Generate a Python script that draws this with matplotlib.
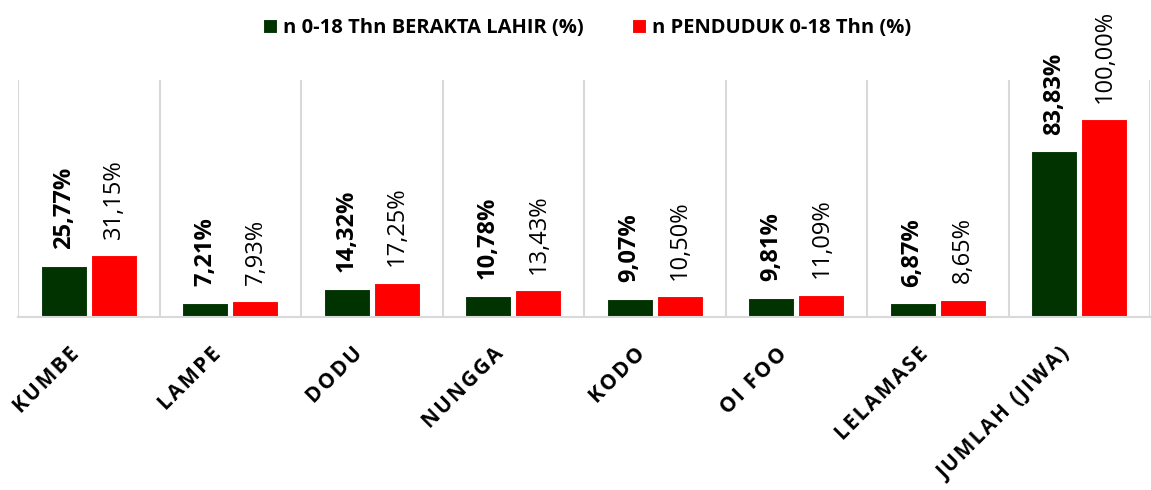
import numpy as np
import matplotlib
matplotlib.use("Agg")
import matplotlib.pyplot as plt
import matplotlib.transforms as mtransforms

categories = ['KUMBE', 'LAMPE', 'DODU', 'NUNGGA', 'KODO', 'OI FOO', 'LELAMASE', 'JUMLAH (JIWA)']
berakta_lahir = [25.77, 7.21, 14.32, 10.78, 9.07, 9.81, 6.87, 83.83]
penduduk = [31.15, 7.93, 17.25, 13.43, 10.50, 11.09, 8.65, 100.00]
series_names = ['n 0-18 Thn BERAKTA LAHIR (%)', 'n PENDUDUK 0-18 Thn (%)']
colors = ['#003300', '#ff0000']

plt.rcParams['font.family'] = ['Open Sans', 'DejaVu Sans']


def fmt(v):
    return f"{v:.2f}%".replace('.', ',')


def spaced(s):
    # the original labels have wide letter spacing
    return '\u200a'.join(s)


def main():
    fig = plt.figure(figsize=(11.51, 4.90), dpi=100)
    ax = fig.add_axes([18 / 1151, 173 / 490, 1132 / 1151, 237 / 490])

    x = np.arange(len(categories))
    w = 0.325
    off = 0.178
    b1 = ax.bar(x - off, berakta_lahir, w, color=colors[0], edgecolor='white', linewidth=0.8,
                label=series_names[0])
    b2 = ax.bar(x + off, penduduk, w, color=colors[1], edgecolor='white', linewidth=0.8,
                label=series_names[1])

    for rect, v in zip(b1, berakta_lahir):
        ax.annotate(fmt(v), (rect.get_x() + rect.get_width() / 2, rect.get_height()),
                    xytext=(0, 12), textcoords='offset points', rotation=90,
                    ha='center', va='bottom', fontsize=17, fontweight='bold', color='black')
    for rect, v in zip(b2, penduduk):
        ax.annotate(fmt(v), (rect.get_x() + rect.get_width() / 2, rect.get_height()),
                    xytext=(0, 12), textcoords='offset points', rotation=90,
                    ha='center', va='bottom', fontsize=17, color='black')

    ax.set_xlim(-0.5, len(categories) - 0.5)
    ax.set_ylim(0, 120)
    ax.set_yticks([])

    # category separators
    ax.set_xticks(np.arange(-0.5, len(categories)), minor=True)
    ax.grid(True, which='minor', axis='x', color='#d9d9d9', linewidth=1.5)
    ax.tick_params(axis='x', which='both', length=0)

    ax.set_xticks(x)
    ax.set_xticklabels([spaced(c) for c in categories], rotation=45, ha='right',
                       rotation_mode='anchor', fontsize=15, fontweight='bold')
    ax.tick_params(axis='x', pad=19)
    shift = mtransforms.ScaledTranslation(-20 / 100, 0, fig.dpi_scale_trans)
    for lbl in ax.get_xticklabels():
        lbl.set_transform(lbl.get_transform() + shift)

    for s in ['top', 'right', 'left']:
        ax.spines[s].set_visible(False)
    ax.spines['bottom'].set_color('#d9d9d9')
    ax.spines['bottom'].set_linewidth(1.5)

    fig.legend(handles=[b1, b2], labels=series_names, loc='center', bbox_to_anchor=(0.51, 1 - 28 / 490),
               ncol=2, frameon=False, prop={'size': 14.5, 'weight': 'bold'},
               handlelength=0.7, handleheight=0.7, handletextpad=0.3, columnspacing=2.4)

    fig.savefig('out.png', dpi=100)


if __name__ == "__main__":
    main()
